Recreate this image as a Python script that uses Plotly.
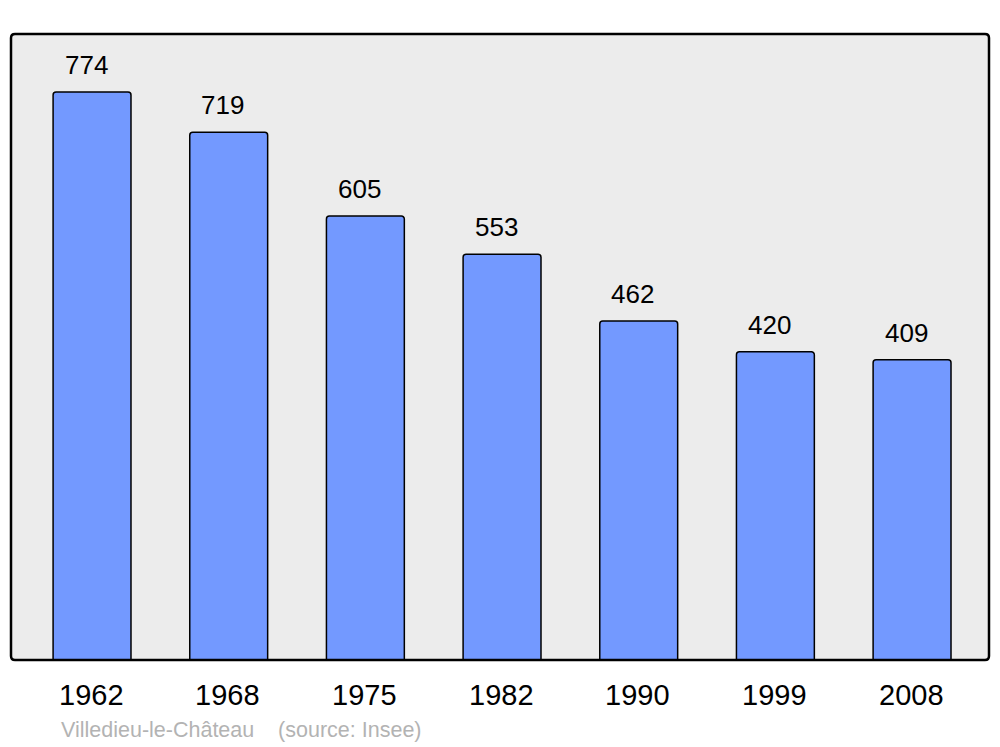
import plotly.graph_objects as go

years = ["1962", "1968", "1975", "1982", "1990", "1999", "2008"]
population = [774, 719, 605, 553, 462, 420, 409]
source_text = "Villedieu-le-Château    (source: Insee)"

xpos = list(range(len(years)))

fig = go.Figure()
fig.add_trace(go.Bar(
    x=xpos, y=population, width=0.57,
    marker=dict(color="#7399ff", line=dict(color="#000000", width=1.5), cornerradius=3),
    hoverinfo="skip",
))

font = "Liberation Sans, Arial, sans-serif"
ann = []
for x, v in zip(xpos, population):
    ann.append(dict(x=x, y=v, xref="x", yref="y", text=str(v), showarrow=False,
                    yanchor="middle", yshift=27, xshift=-6,
                    font=dict(family=font, size=26, color="#000")))
for x, yr in zip(xpos, years):
    ann.append(dict(x=x, y=0, xref="x", yref="paper", text=yr, showarrow=False,
                    yanchor="middle", yshift=-35, xshift=-1,
                    font=dict(family=font, size=29, color="#000")))
ann.append(dict(x=0, y=0, xref="paper", yref="paper", text=source_text, showarrow=False,
                xanchor="left", yanchor="middle", xshift=48, yshift=-70,
                font=dict(family=font, size=21.5, color="#b3b3b3")))

# rounded frame around plot area (paper coords)
rx, ry = 4 / 978, 4 / 626
x0, x1, y0, y1 = 0, 1, 0, 1
path = (f"M {x0+rx},{y0} L {x1-rx},{y0} Q {x1},{y0} {x1},{y0+ry} "
        f"L {x1},{y1-ry} Q {x1},{y1} {x1-rx},{y1} L {x0+rx},{y1} Q {x0},{y1} {x0},{y1-ry} "
        f"L {x0},{y0+ry} Q {x0},{y0} {x0+rx},{y0} Z")

# page body has an 8px margin, so the figure is 992x739 offset by 8px
fig.update_layout(
    width=992, height=739,
    margin=dict(l=3, r=11, t=26, b=87),
    paper_bgcolor="#ffffff", plot_bgcolor="#ececec",
    showlegend=False,
    xaxis=dict(range=[-0.593, 6.563], showticklabels=False, showgrid=False, zeroline=False, fixedrange=True),
    yaxis=dict(range=[0, 853], showticklabels=False, showgrid=False, zeroline=False, fixedrange=True),
    annotations=ann,
    shapes=[dict(type="path", path=path, xref="paper", yref="paper",
                 line=dict(color="#000000", width=2.5), layer="above")],
)

fig.write_html("out.html")
